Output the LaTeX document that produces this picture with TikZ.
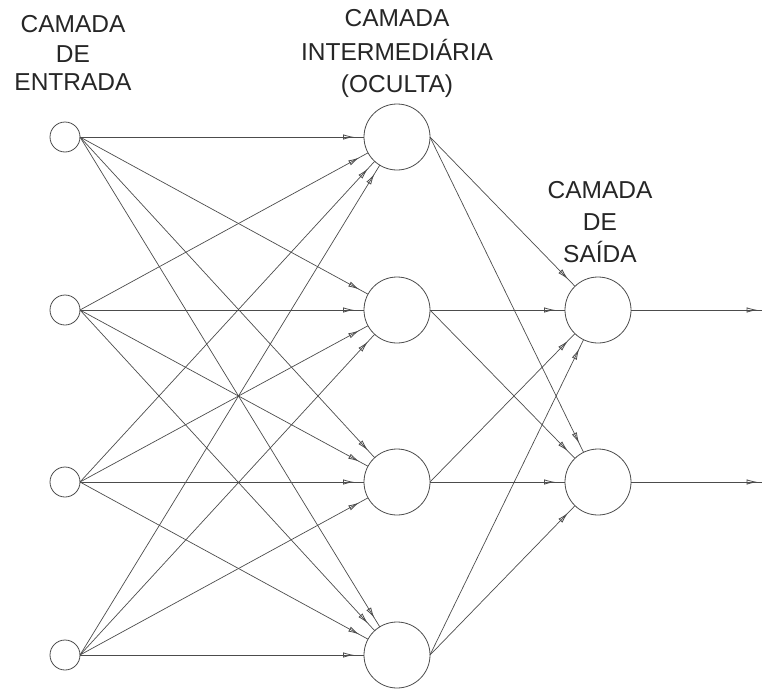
\documentclass[tikz,border=0pt]{standalone}
\usepackage{fontspec}
\setmainfont{Liberation Sans}
\usetikzlibrary{arrows.meta,decorations.markings}
\definecolor{ink}{gray}{0.3}
\tikzset{
  innode/.style={circle,draw=ink,line width=0.8pt,minimum size=30pt,inner sep=0pt,outer sep=0pt},
  bignode/.style={circle,draw=ink,line width=0.8pt,minimum size=66pt,inner sep=0pt,outer sep=0pt},
  lbl/.style={anchor=base,inner sep=0pt,font=\fontsize{24.5}{29}\selectfont,text=black!85},
  tipshape/.style={ink,line width=0.8pt},
  conn/.style={draw=ink,line width=0.7pt,postaction={decorate},
    decoration={markings,mark=at position -10pt with {\arrow[tipshape]{Latex[open,length=11pt,width=5.5pt]}}}},
  outconn/.style={draw=ink,line width=0.7pt,postaction={decorate},
    decoration={markings,mark=at position -4.5pt with {\arrow[tipshape]{Latex[open,length=11pt,width=5.5pt]}}}}
}
\begin{document}
\begin{tikzpicture}[x=1pt,y=-1pt]
\useasboundingbox (0,0) rectangle (762,688);
% labels
\node[lbl] (le1) at (73,32) {CAMADA};
\node[lbl] (le2) at (73,62) {DE};
\node[lbl] (le3) at (73,90) {ENTRADA};
\node[lbl] (lh1) at (397,27) {CAMADA};
\node[lbl] (lh2) at (397,60) {INTERMEDIÁRIA};
\node[lbl] (lh3) at (397,92) {(OCULTA)};
\node[lbl] (lo1) at (600,198) {CAMADA};
\node[lbl] (lo2) at (600,230) {DE};
\node[lbl] (lo3) at (600,262) {SAÍDA};
% nodes
\node[innode] (i1) at (65,137) {};
\node[innode] (i2) at (65,310) {};
\node[innode] (i3) at (65,482) {};
\node[innode] (i4) at (65,655) {};
\node[bignode] (h1) at (397,137) {};
\node[bignode] (h2) at (397,310) {};
\node[bignode] (h3) at (397,482) {};
\node[bignode] (h4) at (397,655) {};
\node[bignode] (o1) at (598,310) {};
\node[bignode] (o2) at (598,482) {};
\coordinate (e1) at (762,310);
\coordinate (e2) at (762,482);
% connections
\foreach \i in {1,...,4}{
  \foreach \h in {1,...,4}{
    \draw[conn] (i\i.east) -- (h\h);
  }
}
\foreach \h in {1,...,4}{
  \foreach \o in {1,2}{
    \draw[conn] (h\h.east) -- (o\o);
  }
}
\draw[outconn] (o1.east) -- (e1);
\draw[outconn] (o2.east) -- (e2);
\end{tikzpicture}
\end{document}
